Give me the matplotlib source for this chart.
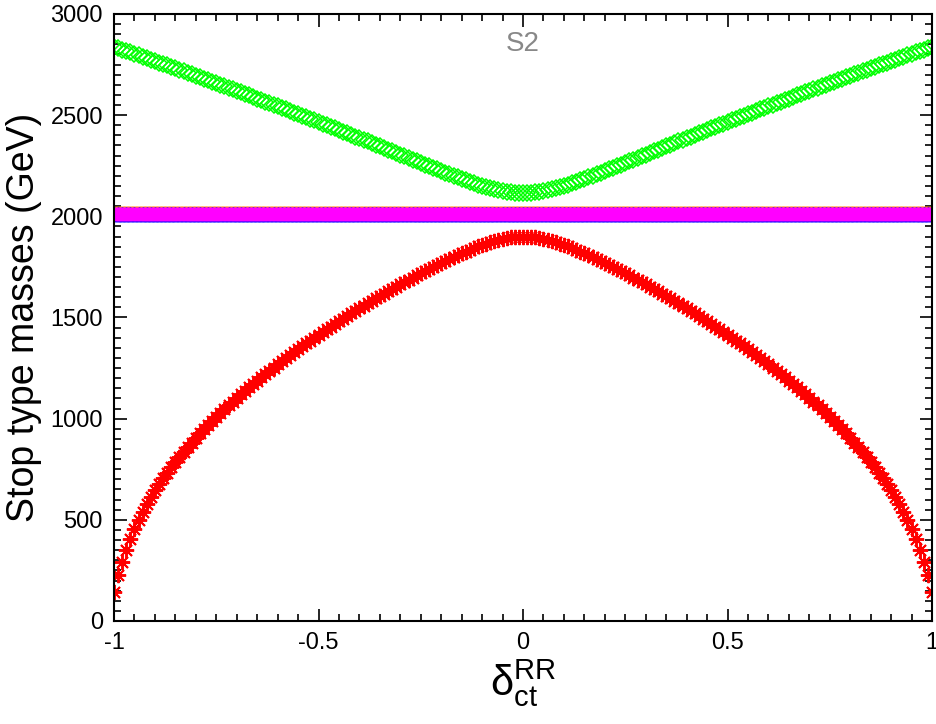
import numpy as np
import matplotlib
matplotlib.use("Agg")
import matplotlib.pyplot as plt
from matplotlib.ticker import MultipleLocator

# sampling of delta_ct^RR, -1 .. 1 in steps of 0.01
delta_ct = np.linspace(-1.0, 1.0, 201)

# heavier mass eigenstate (green)
m_heavy = [
    2838, 2831, 2824, 2817, 2810, 2803, 2796, 2788, 2781, 2774,
    2767, 2760, 2753, 2746, 2738, 2731, 2724, 2717, 2709, 2702,
    2695, 2687, 2680, 2673, 2665, 2658, 2650, 2643, 2635, 2628,
    2620, 2613, 2605, 2598, 2590, 2582, 2575, 2567, 2559, 2552,
    2544, 2536, 2529, 2521, 2513, 2505, 2497, 2490, 2482, 2474,
    2466, 2458, 2450, 2442, 2434, 2426, 2418, 2410, 2402, 2394,
    2386, 2378, 2370, 2362, 2354, 2346, 2337, 2329, 2321, 2313,
    2305, 2297, 2289, 2280, 2272, 2264, 2256, 2248, 2240, 2232,
    2224, 2216, 2208, 2201, 2193, 2186, 2178, 2171, 2164, 2157,
    2151, 2145, 2139, 2134, 2129, 2125, 2121, 2118, 2116, 2115,
    2114,
    2115, 2116, 2118, 2121, 2125, 2129, 2134, 2139, 2145, 2151,
    2157, 2164, 2171, 2178, 2186, 2193, 2201, 2208, 2216, 2224,
    2232, 2240, 2248, 2256, 2264, 2272, 2280, 2289, 2297, 2305,
    2313, 2321, 2329, 2337, 2346, 2354, 2362, 2370, 2378, 2386,
    2394, 2402, 2410, 2418, 2426, 2434, 2442, 2450, 2458, 2466,
    2474, 2482, 2490, 2497, 2505, 2513, 2521, 2529, 2536, 2544,
    2552, 2559, 2567, 2575, 2582, 2590, 2598, 2605, 2613, 2620,
    2628, 2635, 2643, 2650, 2658, 2665, 2673, 2680, 2687, 2695,
    2702, 2709, 2717, 2724, 2731, 2738, 2746, 2753, 2760, 2767,
    2774, 2781, 2788, 2796, 2803, 2810, 2817, 2824, 2831, 2838,
]

# lighter mass eigenstate (red)
m_light = [
    145, 225, 290, 350, 405, 455, 500, 540, 578, 612,
    645, 676, 705, 733, 760, 786, 811, 835, 859, 882,
    905, 927, 948, 968, 989, 1008, 1028, 1047, 1065, 1084,
    1102, 1120, 1137, 1154, 1171, 1188, 1204, 1221, 1237, 1252,
    1268, 1283, 1299, 1314, 1328, 1343, 1358, 1372, 1386, 1400,
    1414, 1428, 1441, 1455, 1468, 1481, 1494, 1507, 1520, 1532,
    1545, 1557, 1570, 1582, 1594, 1606, 1618, 1629, 1641, 1652,
    1664, 1675, 1686, 1697, 1708, 1719, 1729, 1740, 1750, 1760,
    1770, 1780, 1790, 1799, 1808, 1817, 1826, 1835, 1843, 1851,
    1858, 1865, 1872, 1878, 1884, 1888, 1892, 1896, 1898, 1900,
    1900,
    1900, 1898, 1896, 1892, 1888, 1884, 1878, 1872, 1865, 1858,
    1851, 1843, 1835, 1826, 1817, 1808, 1799, 1790, 1780, 1770,
    1760, 1750, 1740, 1729, 1719, 1708, 1697, 1686, 1675, 1664,
    1652, 1641, 1629, 1618, 1606, 1594, 1582, 1570, 1557, 1545,
    1532, 1520, 1507, 1494, 1481, 1468, 1455, 1441, 1428, 1414,
    1400, 1386, 1372, 1358, 1343, 1328, 1314, 1299, 1283, 1268,
    1252, 1237, 1221, 1204, 1188, 1171, 1154, 1137, 1120, 1102,
    1084, 1065, 1047, 1028, 1008, 989, 968, 948, 927, 905,
    882, 859, 835, 811, 786, 760, 733, 705, 676, 645,
    612, 578, 540, 500, 455, 405, 350, 290, 225, 145,
]

# the four unmixed states sit flat at about 2010 GeV
m_flat = 2010
flat_colors = ["#ff8c1a", "#0000ff", "#00e5e5", "#ff00ff"]
flat_markers = ["v", "^", "o", "s"]
flat_sizes = [10, 10, 8, 8]
flat_fill = ["none", "none", "none", "#ff00ff"]

plt.rcParams['font.family'] = ['Liberation Sans', 'DejaVu Sans']
plt.rcParams['mathtext.fontset'] = 'custom'
plt.rcParams['mathtext.rm'] = 'Liberation Sans'
plt.rcParams['mathtext.it'] = 'Liberation Sans:italic'

fig = plt.figure(figsize=(9.37, 7.24), dpi=100)
ax = fig.add_axes([0.1217, 0.1423, 0.873, 0.8384])

ax.plot(delta_ct, m_light, linestyle='none', marker=(8, 2, 0), markersize=11,
        markeredgewidth=1.4, color='#ff0000')
ax.plot(delta_ct, m_heavy, linestyle='none', marker='D', markersize=8.5,
        markerfacecolor='none', markeredgewidth=1.1, color='#00ff00')
for c, mk, sz, fc in zip(flat_colors, flat_markers, flat_sizes, flat_fill):
    ax.plot(delta_ct, [m_flat] * len(delta_ct), linestyle='none', marker=mk,
            markersize=sz, markerfacecolor=fc, markeredgewidth=1.0, color=c)

ax.set_xlim(-1, 1)
ax.set_ylim(0, 3000)
ax.set_xticks([-1, -0.5, 0, 0.5, 1])
ax.set_xticklabels(['-1', '-0.5', '0', '0.5', '1'])
ax.xaxis.set_minor_locator(MultipleLocator(0.05))
ax.yaxis.set_major_locator(MultipleLocator(500))
ax.yaxis.set_minor_locator(MultipleLocator(50))
ax.tick_params(which='both', direction='in', top=True, right=True,
               labelsize=17, width=1.2, pad=8)
ax.tick_params(which='major', length=9)
ax.tick_params(which='minor', length=5)
for s in ax.spines.values():
    s.set_linewidth(1.5)

ax.set_ylabel('Stop type masses (GeV)', fontsize=27, labelpad=6)
ax.set_xlabel(r'$\mathrm{δ}_{\rm ct}^{\rm RR}$', fontsize=30, labelpad=2)
ax.text(0, 2850, 'S2', color='#888888', fontsize=20, ha='center', va='center')

fig.savefig('out.png', dpi=100)
